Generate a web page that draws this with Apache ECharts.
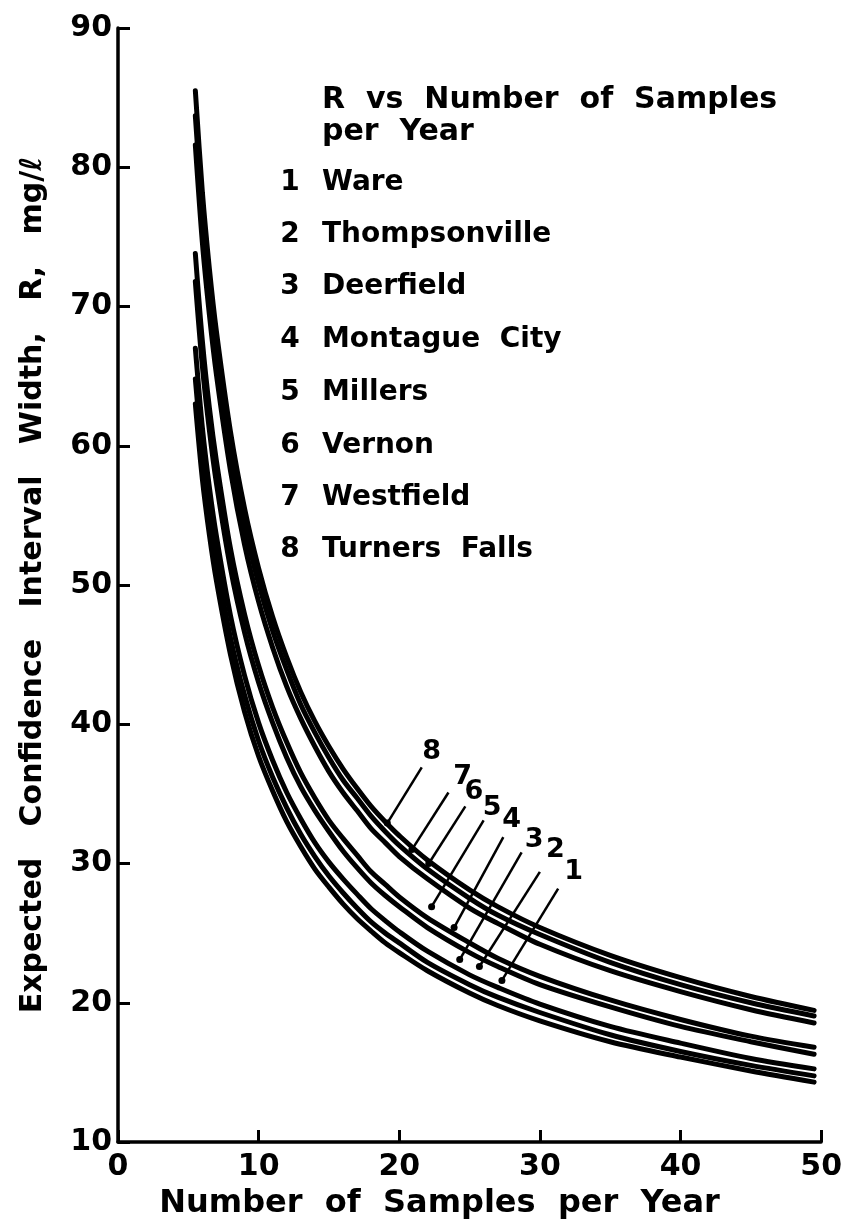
<!DOCTYPE html>
<html><head><meta charset="utf-8">
<script src="https://cdn.jsdelivr.net/npm/echarts@6/dist/echarts.min.js"></script>
<style>html,body{margin:0;padding:0;background:#fff}#c{width:845px;height:1231px}</style>
</head><body><div id="c"></div>
<script>
// Number of samples per year (x positions)
const xs = [5.5, 6, 6.5, 7, 8, 9, 10, 11, 12, 13, 14, 15, 16, 17, 18, 19, 20, 22, 25, 27, 30, 35, 40, 45, 49.5];
// Expected confidence interval width R (mg/l) for each station
const curve1 = [63.0, 57.6, 53.6, 50.3, 45.0, 40.9, 37.7, 35.2, 33.0, 31.2, 29.6, 28.3, 27.1, 26.05, 25.15, 24.3, 23.6, 22.3, 20.7, 19.8, 18.7, 17.2, 16.1, 15.1, 14.3];
const curve2 = [64.8, 59.3, 55.1, 51.7, 46.2, 42.1, 38.8, 36.2, 34.0, 32.1, 30.5, 29.1, 27.9, 26.8, 25.8, 25.0, 24.3, 22.9, 21.3, 20.4, 19.3, 17.7, 16.5, 15.5, 14.75];
const curve3 = [67.0, 61.3, 57.0, 53.5, 47.8, 43.5, 40.1, 37.4, 35.1, 33.2, 31.5, 30.1, 28.9, 27.8, 26.75, 25.9, 25.1, 23.7, 22.0, 21.1, 19.9, 18.3, 17.1, 16.0, 15.25];
const curve4 = [71.8, 65.7, 61.1, 57.3, 51.2, 46.6, 43.0, 40.1, 37.6, 35.5, 33.8, 32.3, 30.9, 29.7, 28.6, 27.7, 26.9, 25.4, 23.6, 22.6, 21.3, 19.7, 18.3, 17.2, 16.3];
const curve5 = [73.8, 67.5, 62.7, 58.9, 52.6, 47.9, 44.2, 41.2, 38.7, 36.5, 34.7, 33.1, 31.8, 30.6, 29.4, 28.5, 27.6, 26.1, 24.3, 23.2, 21.9, 20.2, 18.8, 17.6, 16.8];
const curve6 = [81.6, 74.6, 69.4, 65.1, 58.2, 52.9, 48.8, 45.5, 42.7, 40.4, 38.4, 36.6, 35.1, 33.8, 32.5, 31.5, 30.5, 28.9, 26.8, 25.7, 24.2, 22.3, 20.8, 19.5, 18.55];
const curve7 = [83.7, 76.6, 71.2, 66.8, 59.7, 54.3, 50.1, 46.7, 43.9, 41.4, 39.4, 37.6, 36.0, 34.7, 33.4, 32.3, 31.3, 29.6, 27.5, 26.3, 24.9, 22.9, 21.3, 20.0, 19.05];
const curve8 = [85.5, 78.2, 72.7, 68.2, 61.0, 55.5, 51.2, 47.7, 44.8, 42.3, 40.2, 38.4, 36.8, 35.4, 34.1, 33.0, 32.0, 30.25, 28.1, 26.9, 25.4, 23.4, 21.8, 20.45, 19.45];
const curves = [curve1, curve2, curve3, curve4, curve5, curve6, curve7, curve8];
const curveNums = ['1', '2', '3', '4', '5', '6', '7', '8'];
const curveNames = ['Ware', 'Thompsonville', 'Deerfield', 'Montague  City', 'Millers', 'Vernon', 'Westfield', 'Turners  Falls'];
const legendTitle = ['R  vs  Number  of  Samples', 'per  Year'];

// In-plot curve labels and leader lines (data coordinates), order 8..1
const annNums = ['8', '7', '6', '5', '4', '3', '2', '1'];
const annLabelX = [22.3, 24.5, 25.3, 26.6, 28.0, 29.6, 31.1, 32.4];
const annLabelY = [38.0, 36.2, 35.1, 34.0, 33.1, 31.7, 31.0, 29.4];
const leadStartX = [21.6, 23.5, 24.7, 26.0, 27.4, 28.7, 30.0, 31.3];
const leadStartY = [36.9, 35.1, 34.1, 33.1, 31.9, 30.8, 29.4, 28.2];
const leadEndX = [19.15, 20.9, 22.1, 22.3, 23.9, 24.3, 25.7, 27.3];
const leadEndY = [32.9, 31.0, 30.0, 26.9, 25.4, 23.1, 22.6, 21.6];

const xTicks = [0, 10, 20, 30, 40, 50];
const yTicks = [10, 20, 30, 40, 50, 60, 70, 80, 90];

const FONT = 'DejaVu Sans';
const series = [];
curves.forEach((c, i) => {
  series.push({
    type: 'line', name: curveNames[i], smooth: 0.3,
    showSymbol: false, symbol: 'none', z: 3,
    lineStyle: {color: '#000', width: 5, cap: 'round'},
    data: xs.map((x, k) => [x, c[k]])
  });
});
annNums.forEach((n, i) => {
  series.push({
    type: 'line', z: 4, silent: true,
    symbol: 'circle',
    symbolSize: (v, p) => (p.dataIndex === 1 ? 7 : 0),
    itemStyle: {color: '#000', opacity: 1},
    lineStyle: {color: '#000', width: 2.5},
    data: [[leadStartX[i], leadStartY[i]], [leadEndX[i], leadEndY[i]]]
  });
});
series.push({
  type: 'scatter', symbolSize: 1, z: 5, silent: true,
  itemStyle: {color: '#fff', opacity: 0},
  data: annNums.map((n, i) => [annLabelX[i], annLabelY[i], n]),
  label: {show: true, position: 'inside', formatter: p => p.data[2],
    fontFamily: FONT, fontWeight: 'bold', fontSize: 27, color: '#000', opacity: 1}
});

const graphics = [];
legendTitle.forEach((t, i) => {
  graphics.push({type: 'text', x: 322, y: 100 + i * 32,
    style: {text: t, fontFamily: FONT, fontWeight: 'bold', fontSize: 30, fill: '#000', align: 'left', verticalAlign: 'middle'}});
});
const legendY = [183, 235, 287, 340, 393, 446, 498, 550];
curveNames.forEach((nm, i) => {
  graphics.push({type: 'text', x: 290, y: legendY[i],
    style: {text: curveNums[i], fontFamily: FONT, fontWeight: 'bold', fontSize: 28, fill: '#000', align: 'center', verticalAlign: 'middle'}});
  graphics.push({type: 'text', x: 322, y: legendY[i],
    style: {text: nm, fontFamily: FONT, fontWeight: 'bold', fontSize: 28, fill: '#000', align: 'left', verticalAlign: 'middle'}});
});

const chart = echarts.init(document.getElementById('c'), null, {renderer: 'canvas'});
chart.setOption({
  backgroundColor: '#fff',
  animation: false,
  grid: {left: 118, right: 23, top: 28, bottom: 89, containLabel: false},
  xAxis: {
    type: 'value', min: 0, max: 50, interval: 10,
    name: 'Number  of  Samples  per  Year', nameLocation: 'middle', nameGap: 46,
    nameTextStyle: {fontFamily: FONT, fontWeight: 'bold', fontSize: 32, color: '#000', padding: [0, 60, 0, 0]},
    axisLine: {show: true, lineStyle: {color: '#000', width: 3.5}},
    axisTick: {show: true, inside: true, length: 12, lineStyle: {color: '#000', width: 3}},
    axisLabel: {margin: 10, fontFamily: FONT, fontWeight: 'bold', fontSize: 30, color: '#000',
      customValues: xTicks},
    splitLine: {show: false}
  },
  yAxis: {
    type: 'value', min: 10, max: 90, interval: 10,
    name: 'Expected   Confidence   Interval   Width,   R,   mg/ℓ', nameLocation: 'middle', nameGap: 70, nameRotate: 90,
    nameTextStyle: {fontFamily: FONT, fontWeight: 'bold', fontSize: 30, color: '#000'},
    axisLine: {show: true, lineStyle: {color: '#000', width: 3.5}},
    axisTick: {show: true, inside: true, length: 12, lineStyle: {color: '#000', width: 3}},
    axisLabel: {margin: 6, fontFamily: FONT, fontWeight: 'bold', fontSize: 30, color: '#000',
      customValues: yTicks},
    splitLine: {show: false}
  },
  graphic: graphics,
  series: series
});
</script></body></html>
